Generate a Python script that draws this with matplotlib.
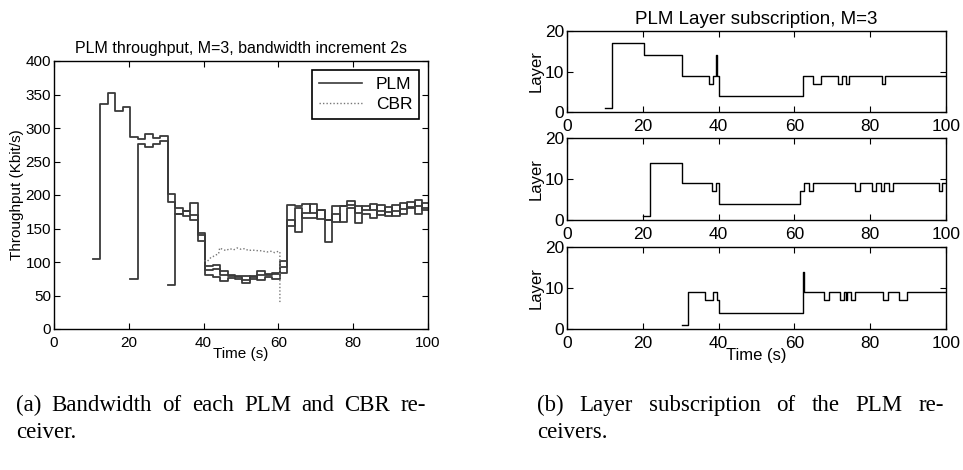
import matplotlib
matplotlib.use("Agg")
import matplotlib.pyplot as plt
from matplotlib.lines import Line2D
import numpy as np

plt.rcParams['font.family'] = ['Liberation Sans', 'DejaVu Sans']

# ---------------- data ----------------
step_s = 2  # measurement interval (s)
plm1_start = 10.4
plm1_vals = [104, 336, 352, 325, 331, 287, 283, 291, 285, 288, 202, 181, 176, 188, 144,
             94, 96, 86, 81, 79, 79, 74, 86, 82, 84, 102, 185, 183, 187, 173, 178, 163,
             183, 183, 191, 183, 178, 186, 170, 182, 176, 188, 180, 184, 178]
plm2_start = 20.4
plm2_vals = [74, 276, 272, 276, 280, 189, 172, 169, 162, 132, 80, 78, 72, 76, 74, 68, 79,
             73, 78, 74, 84, 163, 145, 173, 187, 164, 130, 172, 159, 180, 158, 172, 165,
             185, 175, 168, 179, 190, 172, 188]
plm3_start = 30.4
plm3_vals = [65, 171, 176, 170, 140, 88, 90, 80, 79, 78, 73, 78, 80, 80, 82, 92, 153, 180,
             165, 165, 178, 162, 159, 183, 185, 173, 183, 178, 176, 168, 185, 172, 182,
             193, 180]

cbr_t = [40.2, 41, 42, 42.5, 43, 44, 44.3, 45, 46, 47, 48, 49, 50, 51, 52, 53, 54, 55, 56,
         57, 58, 59, 60, 60.4, 60.4]
cbr_v = [102, 101, 107, 108, 110, 112, 121, 119, 117, 120, 118, 121, 119, 120, 117, 118,
         117, 117, 116, 115, 116, 114, 116, 115, 38]

layer1_t = [10, 11.8, 20.3, 30.4, 37.5, 38.6, 39.4, 39.6, 40.2, 62.4, 65, 67, 71.4, 72.5,
            73.5, 74.5, 83, 84, 100]
layer1_v = [1, 17, 14, 9, 7, 9, 14, 9, 4, 9, 7, 9, 7, 9, 7, 9, 7, 9, 9]

layer2_t = [20, 21.9, 30.4, 38.2, 39.3, 40.2, 61.5, 62.6, 63.9, 65, 76.1, 77.4, 80.4, 81.4,
            82.8, 83.7, 85, 86.1, 98.1, 99, 100]
layer2_v = [1, 14, 9, 7, 9, 4, 7, 9, 7, 9, 7, 9, 7, 9, 7, 9, 7, 9, 7, 9, 9]

layer3_t = [30.3, 31.8, 36.5, 38.6, 39.7, 40.2, 62.3, 62.5, 67.9, 69, 71.9, 73, 73.5, 74,
            74.9, 76, 83.4, 84.6, 87.5, 89.7, 100]
layer3_v = [1, 9, 7, 9, 7, 4, 14, 9, 7, 9, 7, 9, 7, 9, 7, 9, 7, 9, 7, 9, 9]

x_ticks = [0, 20, 40, 60, 80, 100]
thr_ticks = [0, 50, 100, 150, 200, 250, 300, 350, 400]
layer_ticks = [0, 10, 20]

# ---------------- figure ----------------
W, H = 963, 470
fig = plt.figure(figsize=(W / 100, H / 100), dpi=100)


def px_axes(x0, y0, x1, y1):
    return fig.add_axes([x0 / W, 1 - y1 / H, (x1 - x0) / W, (y1 - y0) / H])


def style(ax, size, xpad):
    ax.tick_params(direction='in', top=True, right=True, length=4, width=0.8,
                   labelsize=size, colors='black')
    ax.tick_params(axis='y', pad=2)
    ax.tick_params(axis='x', pad=xpad)
    for s in ax.spines.values():
        s.set_linewidth(1.0)
        s.set_color('black')


PLM_C = '#3a3a3a'
CBR_C = '#777777'

# left panel
axL = px_axes(54, 61, 428, 329)
for start, vals in [(plm1_start, plm1_vals), (plm2_start, plm2_vals), (plm3_start, plm3_vals)]:
    t = start + step_s * np.arange(len(vals) + 1)
    v = list(vals) + [vals[-1]]
    t = np.minimum(t, 100)
    axL.step(t, v, where='post', color=PLM_C, lw=1.3)
axL.plot(cbr_t, cbr_v, color=CBR_C, lw=1.0, ls=(0, (1, 1.5)))
axL.set_xlim(0, 100)
axL.set_ylim(0, 400)
axL.set_xticks(x_ticks)
axL.set_yticks(thr_ticks)
style(axL, 11, 5)
axL.set_title('PLM throughput, M=3, bandwidth increment 2s', fontsize=11.5, pad=6)
axL.set_xlabel('Time (s)', fontsize=11, labelpad=-2)
axL.set_ylabel('Throughput (Kbit/s)', fontsize=11, labelpad=1)
handles = [Line2D([], [], color=PLM_C, lw=1.2),
           Line2D([], [], color=CBR_C, lw=1.0, ls=(0, (1, 1.5)))]
leg = axL.legend(handles, ['PLM', 'CBR'], loc='upper right', fontsize=12.5,
                 frameon=True, fancybox=False, edgecolor='black', framealpha=1,
                 handlelength=2.5, borderaxespad=0.5, labelspacing=0.3)
leg.get_frame().set_linewidth(1.2)

# right panels
rows = [(31, 112, layer1_t, layer1_v), (138, 220, layer2_t, layer2_v),
        (247, 329, layer3_t, layer3_v)]
axes_r = []
for (y0, y1, lt, lv) in rows:
    ax = px_axes(567, y0, 946, y1)
    ax.step(lt, lv, where='post', color='black', lw=1.0)
    ax.set_xlim(0, 100)
    ax.set_ylim(0, 20)
    ax.set_xticks(x_ticks)
    ax.set_yticks(layer_ticks)
    style(ax, 12.5, 5)
    ax.set_ylabel('Layer', fontsize=12, labelpad=1)
    axes_r.append(ax)
axes_r[0].set_title('PLM Layer subscription, M=3', fontsize=13.5, pad=5)
axes_r[2].set_xlabel('Time (s)', fontsize=12, labelpad=-2)

# captions (justified)
cap_kw = dict(family=['Liberation Serif', 'DejaVu Serif'], fontsize=16.5, va='baseline')
renderer = fig.canvas.get_renderer()


def justify(words, x0, x1, y):
    texts = [fig.text(0, 1 - y / H, w, **cap_kw) for w in words]
    widths = [t.get_window_extent(renderer).width for t in texts]
    gap = ((x1 - x0) - sum(widths)) / (len(words) - 1)
    x = x0
    for t, w in zip(texts, widths):
        t.set_x(x / W)
        x += w + gap


justify('(a) Bandwidth of each PLM and CBR re-'.split(), 16, 426, 411)
fig.text(16 / W, 1 - 438 / H, 'ceiver.', **cap_kw)
justify('(b) Layer subscription of the PLM re-'.split(), 537, 944, 411)
fig.text(537 / W, 1 - 438 / H, 'ceivers.', **cap_kw)

fig.savefig('out.png', dpi=100)
